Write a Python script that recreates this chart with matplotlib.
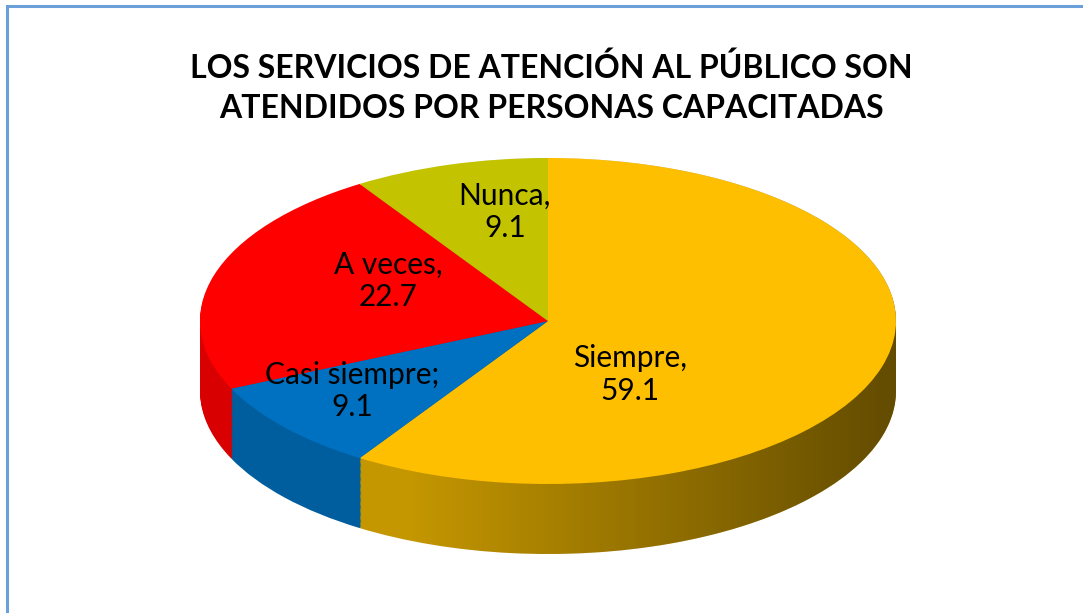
import matplotlib
matplotlib.use("Agg")
import matplotlib.pyplot as plt
import numpy as np
from matplotlib.patches import Rectangle
from matplotlib.path import Path

# datos del gráfico
categorias = ["Siempre", "Casi siempre", "A veces", "Nunca"]
valores = [59.1, 9.1, 22.7, 9.1]
separadores = [",", ";", ",", ","]
titulo = "LOS SERVICIOS DE ATENCIÓN AL PÚBLICO SON\nATENDIDOS POR PERSONAS CAPACITADAS"

colores = ["#FDBF00", "#0070C0", "#FF0000", "#C3C300"]
colores_lado = ["#C49600", "#005E9E", "#D80000", "#9A9A00"]
# posiciones de las etiquetas (en unidades del pastel)
pos_etiquetas = [(0.236, -0.33), (-0.563, -0.43), (-0.46, 0.245), (-0.124, 0.669)]

W, H = 1083, 613
fig = plt.figure(figsize=(W / 100, H / 100), dpi=100)
fig.patch.set_facecolor("white")

# borde del área del gráfico
fig.add_artist(Rectangle((7 / W, -0.05), 1.2, (H - 6) / H + 0.05, transform=fig.transFigure,
                         fill=False, edgecolor="#6A9FDA", linewidth=2.2))

ax = fig.add_axes([0, 0, 1, 1])

# centro y radios de la elipse en píxeles
cx, cy = 548, H - 321
rx, ry = 348, 163
prof = 70  # espesor del pastel en píxeles
d_max = prof / ry

# lado del pastel: capas apiladas
n_capas = 60
for k in range(n_capas, 0, -1):
    d = d_max * k / n_capas
    ax.pie(valores, colors=colores_lado, startangle=90, counterclock=False,
           center=(0, -d), wedgeprops=dict(linewidth=0, zorder=1))

# sombreado horizontal del lado, recortado al contorno del cilindro
xs = np.linspace(-1, 1, 256)
alfa = np.clip((xs + 0.4) / 1.4, 0, 1) * 0.5
grad = np.zeros((1, 256, 4))
grad[..., 3] = alfa
im = ax.imshow(grad, extent=(-1, 1, -1 - d_max, 1), aspect="auto", zorder=1.5,
               interpolation="bilinear")
t_inf = np.linspace(np.pi, 2 * np.pi, 200)
t_sup = np.linspace(0, np.pi, 200)
contorno = np.vstack([np.column_stack([np.cos(t_inf), np.sin(t_inf) - d_max]),
                      np.column_stack([np.cos(t_sup), np.sin(t_sup)])])
contorno = np.vstack([contorno, contorno[:1]])
im.set_clip_path(Path(contorno, closed=True), ax.transData)

# cara superior
wedges, _ = ax.pie(valores, colors=colores, startangle=90, counterclock=False,
                   wedgeprops=dict(linewidth=0, zorder=2))

ax.set_aspect("auto")
ax.set_xlim((0 - cx) / rx, (W - cx) / rx)
ax.set_ylim((0 - cy) / ry, (H - cy) / ry)
ax.axis("off")

for cat, val, sep, (x, y) in zip(categorias, valores, separadores, pos_etiquetas):
    ax.text(x, y, f"{cat}{sep}\n{val:.1f}", ha="center", va="center",
            multialignment="center", fontsize=21.5, family="Lato", color="black",
            linespacing=1.2, zorder=3)

fig.text(551 / W, 1 - 88 / H, titulo, ha="center", va="center", fontsize=23,
         fontweight="bold", family="Lato", linespacing=1.45)

fig.savefig("out.png", dpi=100)
